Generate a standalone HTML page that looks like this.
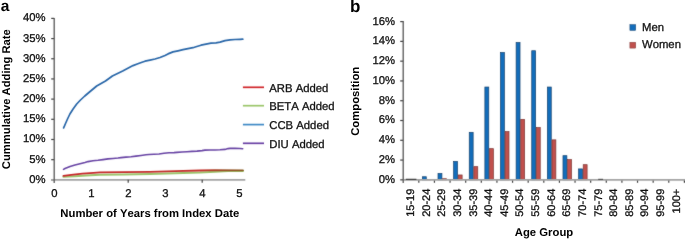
<!DOCTYPE html>
<html><head><meta charset="utf-8"><style>
html,body{margin:0;padding:0;background:#fff;width:685px;height:241px;overflow:hidden}
svg{display:block;transform:translateZ(0)}
text{font-family:"Liberation Sans", sans-serif;fill:#1a1a1a;font-kerning:none;text-rendering:geometricPrecision}
.t{font-size:11.3px;fill:#111;stroke:#111;stroke-width:0.3px}
.s{font-size:11px;fill:#111;stroke:#111;stroke-width:0.3px}
.b{font-size:11.3px;font-weight:bold;fill:#000}
.br{font-size:11.15px;font-weight:bold;fill:#000}
.lab{font-size:16px;font-weight:bold;fill:#000}
</style></head><body>
<svg width="685" height="241" viewBox="0 0 685 241">
<defs><filter id="id0" color-interpolation-filters="sRGB" x="0" y="0" width="685" height="241" filterUnits="userSpaceOnUse"><feOffset dx="0" dy="0"/></filter><filter id="bl" color-interpolation-filters="sRGB" x="0" y="0" width="685" height="241" filterUnits="userSpaceOnUse"><feConvolveMatrix order="3" kernelMatrix="0.025 0.05 0.025 0.05 0.7 0.05 0.025 0.05 0.025" edgeMode="duplicate" preserveAlpha="false"/></filter></defs>
<rect width="685" height="241" fill="#fff"/>
<g filter="url(#bl)">
<rect width="685" height="241" fill="#fff"/>
<line x1="51.2" y1="179.85" x2="54.2" y2="179.85" stroke="#404040" stroke-width="1.2"/>
<line x1="51.2" y1="159.67" x2="54.2" y2="159.67" stroke="#404040" stroke-width="1.2"/>
<line x1="51.2" y1="139.49" x2="54.2" y2="139.49" stroke="#404040" stroke-width="1.2"/>
<line x1="51.2" y1="119.31" x2="54.2" y2="119.31" stroke="#404040" stroke-width="1.2"/>
<line x1="51.2" y1="99.12" x2="54.2" y2="99.12" stroke="#404040" stroke-width="1.2"/>
<line x1="51.2" y1="78.94" x2="54.2" y2="78.94" stroke="#404040" stroke-width="1.2"/>
<line x1="51.2" y1="58.76" x2="54.2" y2="58.76" stroke="#404040" stroke-width="1.2"/>
<line x1="51.2" y1="38.58" x2="54.2" y2="38.58" stroke="#404040" stroke-width="1.2"/>
<line x1="51.2" y1="18.4" x2="54.2" y2="18.4" stroke="#404040" stroke-width="1.2"/>
<line x1="51" y1="179.85" x2="245.3" y2="179.85" stroke="#a3a3a3" stroke-width="1.6"/>
<line x1="54.2" y1="18" x2="54.2" y2="183" stroke="#555" stroke-width="1.3"/>
<line x1="128.2" y1="179.85" x2="128.2" y2="182.8" stroke="#404040" stroke-width="1.2"/>
<line x1="202.2" y1="179.85" x2="202.2" y2="182.8" stroke="#404040" stroke-width="1.2"/>
<path d="M63.4,176.8 L74.9,176.3 L86.1,175.6 L100,174.8 L124,174.4 L150,174 L175,173.2 L200,172.6 L215,171.8 L228,171.1 L243,170.9" fill="none" stroke="#9cc46c" stroke-width="2" stroke-linejoin="round" stroke-linecap="round"/>
<defs><linearGradient id="ga" gradientUnits="userSpaceOnUse" x1="63" y1="0" x2="243" y2="0"><stop offset="0" stop-color="#c8262a"/><stop offset="0.78" stop-color="#c2302a"/><stop offset="0.9" stop-color="#9a4f26"/><stop offset="1" stop-color="#8a5a22"/></linearGradient></defs>
<path d="M63.4,175.9 L71.2,174.8 L82.4,173.6 L93.6,172.8 L100,172.4 L124,172.1 L150,171.8 L175,171.1 L200,170.5 L215,170.2 L243,170.3" fill="none" stroke="url(#ga)" stroke-width="1.8" stroke-linejoin="round" stroke-linecap="round"/>
<path d="M63.5,169.4 L65,168.5 L70,166.5 L75,165 L80,163.7 L85,162.5 L88,161.6 L93,160.8 L98,160.3 L103,159.6 L108,158.9 L113,158.5 L118,158 L121,157.6 L126,157.1 L131,156.7 L136,156.1 L141,155.5 L146,154.8 L149,154.5 L154,154.2 L159,154 L164,153.3 L169,152.7 L174,152.6 L177,152.4 L182,152 L187,151.7 L192,151.4 L197,151.1 L202,150.6 L205,150.1 L210,150 L215,150 L220,149.8 L225,149.4 L228,148.6 L230,148.4 L235,148.4 L240,148.5 L242.7,148.7" fill="none" stroke="#6844a4" stroke-width="1.6" stroke-linejoin="round" stroke-linecap="round"/>
<path d="M63.6,127.9 L64.5,125.9 L65.3,124 L67.5,119 L69.9,114 L73.1,109 L76.7,104 L80.5,100 L84.8,96 L90.7,91 L96.7,86 L105.5,81 L112.4,76 L122.7,71 L133,65.6 L137.9,63.8 L142,62.2 L145,61.2 L150,60.1 L155,59 L160,57.5 L165,55.5 L168,53.9 L173,51.9 L178,50.8 L183,49.7 L188,48.6 L193,47.7 L196,46.8 L201,45.2 L206,44.1 L211,43.2 L216,42.8 L220,42.1 L225,40.6 L230,39.8 L235,39.5 L240,39.3 L242.8,39.2" fill="none" stroke="#2866a8" stroke-width="1.7" stroke-linejoin="round" stroke-linecap="round"/>
<line x1="242.9" y1="87.3" x2="264" y2="87.3" stroke="#d0262a" stroke-width="1.7"/>
<line x1="242.9" y1="105.7" x2="264" y2="105.7" stroke="#9bc56a" stroke-width="1.7"/>
<line x1="242.9" y1="124.6" x2="264" y2="124.6" stroke="#3f8ac6" stroke-width="1.7"/>
<line x1="242.9" y1="143.3" x2="264" y2="143.3" stroke="#6a40a4" stroke-width="1.7"/>
<line x1="400.2" y1="179.85" x2="403.2" y2="179.85" stroke="#404040" stroke-width="1.2"/>
<line x1="400.2" y1="160.07" x2="403.2" y2="160.07" stroke="#404040" stroke-width="1.2"/>
<line x1="400.2" y1="140.29" x2="403.2" y2="140.29" stroke="#404040" stroke-width="1.2"/>
<line x1="400.2" y1="120.51" x2="403.2" y2="120.51" stroke="#404040" stroke-width="1.2"/>
<line x1="400.2" y1="100.72" x2="403.2" y2="100.72" stroke="#404040" stroke-width="1.2"/>
<line x1="400.2" y1="80.94" x2="403.2" y2="80.94" stroke="#404040" stroke-width="1.2"/>
<line x1="400.2" y1="61.16" x2="403.2" y2="61.16" stroke="#404040" stroke-width="1.2"/>
<line x1="400.2" y1="41.38" x2="403.2" y2="41.38" stroke="#404040" stroke-width="1.2"/>
<line x1="400.2" y1="21.6" x2="403.2" y2="21.6" stroke="#404040" stroke-width="1.2"/>
<line x1="418.82" y1="179.85" x2="418.82" y2="182.8" stroke="#404040" stroke-width="1.2"/>
<rect x="422.38" y="176.74" width="3.9" height="3.11" fill="#126dbb" stroke="#17436e" stroke-width="0.7"/>
<rect x="426.98" y="179.41" width="3.9" height="0.44" fill="#c0504d" stroke="#7e3633" stroke-width="0.7"/>
<line x1="434.44" y1="179.85" x2="434.44" y2="182.8" stroke="#404040" stroke-width="1.2"/>
<rect x="438.01" y="173.47" width="3.9" height="6.38" fill="#126dbb" stroke="#17436e" stroke-width="0.7"/>
<rect x="442.61" y="178.72" width="3.9" height="1.13" fill="#c0504d" stroke="#7e3633" stroke-width="0.7"/>
<line x1="450.07" y1="179.85" x2="450.07" y2="182.8" stroke="#404040" stroke-width="1.2"/>
<rect x="453.63" y="161.41" width="3.9" height="18.44" fill="#126dbb" stroke="#17436e" stroke-width="0.7"/>
<rect x="458.23" y="174.96" width="3.9" height="4.89" fill="#c0504d" stroke="#7e3633" stroke-width="0.7"/>
<line x1="465.69" y1="179.85" x2="465.69" y2="182.8" stroke="#404040" stroke-width="1.2"/>
<rect x="469.25" y="132.33" width="3.9" height="47.52" fill="#126dbb" stroke="#17436e" stroke-width="0.7"/>
<rect x="473.85" y="166.65" width="3.9" height="13.2" fill="#c0504d" stroke="#7e3633" stroke-width="0.7"/>
<line x1="481.31" y1="179.85" x2="481.31" y2="182.8" stroke="#404040" stroke-width="1.2"/>
<rect x="484.87" y="87.03" width="3.9" height="92.82" fill="#126dbb" stroke="#17436e" stroke-width="0.7"/>
<rect x="489.47" y="148.65" width="3.9" height="31.2" fill="#c0504d" stroke="#7e3633" stroke-width="0.7"/>
<line x1="496.93" y1="179.85" x2="496.93" y2="182.8" stroke="#404040" stroke-width="1.2"/>
<rect x="500.49" y="52.51" width="3.9" height="127.34" fill="#126dbb" stroke="#17436e" stroke-width="0.7"/>
<rect x="505.09" y="131.64" width="3.9" height="48.21" fill="#c0504d" stroke="#7e3633" stroke-width="0.7"/>
<line x1="512.56" y1="179.85" x2="512.56" y2="182.8" stroke="#404040" stroke-width="1.2"/>
<rect x="516.12" y="42.52" width="3.9" height="137.33" fill="#126dbb" stroke="#17436e" stroke-width="0.7"/>
<rect x="520.72" y="119.37" width="3.9" height="60.48" fill="#c0504d" stroke="#7e3633" stroke-width="0.7"/>
<line x1="528.18" y1="179.85" x2="528.18" y2="182.8" stroke="#404040" stroke-width="1.2"/>
<rect x="531.74" y="50.73" width="3.9" height="129.12" fill="#126dbb" stroke="#17436e" stroke-width="0.7"/>
<rect x="536.34" y="127.58" width="3.9" height="52.27" fill="#c0504d" stroke="#7e3633" stroke-width="0.7"/>
<line x1="543.8" y1="179.85" x2="543.8" y2="182.8" stroke="#404040" stroke-width="1.2"/>
<rect x="547.36" y="87.03" width="3.9" height="92.82" fill="#126dbb" stroke="#17436e" stroke-width="0.7"/>
<rect x="551.96" y="139.85" width="3.9" height="40" fill="#c0504d" stroke="#7e3633" stroke-width="0.7"/>
<line x1="559.42" y1="179.85" x2="559.42" y2="182.8" stroke="#404040" stroke-width="1.2"/>
<rect x="562.98" y="155.67" width="3.9" height="24.18" fill="#126dbb" stroke="#17436e" stroke-width="0.7"/>
<rect x="567.58" y="159.63" width="3.9" height="20.22" fill="#c0504d" stroke="#7e3633" stroke-width="0.7"/>
<line x1="575.04" y1="179.85" x2="575.04" y2="182.8" stroke="#404040" stroke-width="1.2"/>
<rect x="578.61" y="168.92" width="3.9" height="10.93" fill="#126dbb" stroke="#17436e" stroke-width="0.7"/>
<rect x="583.21" y="164.67" width="3.9" height="15.18" fill="#c0504d" stroke="#7e3633" stroke-width="0.7"/>
<line x1="590.67" y1="179.85" x2="590.67" y2="182.8" stroke="#404040" stroke-width="1.2"/>
<line x1="606.29" y1="179.85" x2="606.29" y2="182.8" stroke="#404040" stroke-width="1.2"/>
<line x1="621.91" y1="179.85" x2="621.91" y2="182.8" stroke="#404040" stroke-width="1.2"/>
<line x1="637.53" y1="179.85" x2="637.53" y2="182.8" stroke="#404040" stroke-width="1.2"/>
<line x1="653.16" y1="179.85" x2="653.16" y2="182.8" stroke="#404040" stroke-width="1.2"/>
<line x1="668.78" y1="179.85" x2="668.78" y2="182.8" stroke="#404040" stroke-width="1.2"/>
<line x1="684.4" y1="179.85" x2="684.4" y2="182.8" stroke="#404040" stroke-width="1.2"/>
<line x1="403.2" y1="179.85" x2="685" y2="179.85" stroke="#a3a3a3" stroke-width="1.6"/>
<line x1="403.2" y1="21" x2="403.2" y2="183" stroke="#555" stroke-width="1.3"/>
<rect x="405.81" y="178.75" width="10.6" height="1.2" fill="#3c3c3c"/>
<rect x="598.18" y="178.8" width="4.9" height="1.1" fill="#4a4a4a"/>
<rect x="629.9" y="24.6" width="5.8" height="5.8" fill="#126dbb" stroke="#17436e" stroke-width="0.5"/>
<rect x="629.9" y="42.3" width="5.8" height="5.8" fill="#c0504d" stroke="#7e3633" stroke-width="0.5"/>
</g>
<g filter="url(#id0)">
<text x="45.6" y="182.85" text-anchor="end" class="t">0%</text>
<text x="45.6" y="162.67" text-anchor="end" class="t">5%</text>
<text x="45.6" y="142.49" text-anchor="end" class="t">10%</text>
<text x="45.6" y="122.31" text-anchor="end" class="t">15%</text>
<text x="45.6" y="102.12" text-anchor="end" class="t">20%</text>
<text x="45.6" y="81.94" text-anchor="end" class="t">25%</text>
<text x="45.6" y="61.76" text-anchor="end" class="t">30%</text>
<text x="45.6" y="41.58" text-anchor="end" class="t">35%</text>
<text x="45.6" y="21.4" text-anchor="end" class="t">40%</text>
<text x="54.5" y="197" text-anchor="middle" class="t">0</text>
<text x="91.5" y="197" text-anchor="middle" class="t">1</text>
<text x="128.5" y="197" text-anchor="middle" class="t">2</text>
<text x="165.5" y="197" text-anchor="middle" class="t">3</text>
<text x="202.5" y="197" text-anchor="middle" class="t">4</text>
<text x="239.5" y="197" text-anchor="middle" class="t">5</text>
<text x="149.8" y="216.8" text-anchor="middle" class="b">Number of Years from Index Date</text>
<text transform="translate(10.4,99.2) rotate(-90)" text-anchor="middle" class="br" style="font-size:11.25px">Cummulative Adding Rate</text>
<text x="0.7" y="11.2" class="lab" style="font-size:15.5px">a</text>
<text x="269.3" y="91.6" class="t">ARB Added</text>
<text x="269.3" y="110" class="t">BETA Added</text>
<text x="269.3" y="128.9" class="t">CCB Added</text>
<text x="269.3" y="147.6" class="t">DIU Added</text>
<text x="395" y="182.75" text-anchor="end" class="t">0%</text>
<text x="395" y="162.97" text-anchor="end" class="t">2%</text>
<text x="395" y="143.19" text-anchor="end" class="t">4%</text>
<text x="395" y="123.41" text-anchor="end" class="t">6%</text>
<text x="395" y="103.62" text-anchor="end" class="t">8%</text>
<text x="395" y="83.84" text-anchor="end" class="t">10%</text>
<text x="395" y="64.06" text-anchor="end" class="t">12%</text>
<text x="395" y="44.28" text-anchor="end" class="t">14%</text>
<text x="395" y="24.5" text-anchor="end" class="t">16%</text>
<text transform="translate(414.11,188.7) rotate(-90)" text-anchor="end" class="s">15-19</text>
<text transform="translate(429.73,188.7) rotate(-90)" text-anchor="end" class="s">20-24</text>
<text transform="translate(445.36,188.7) rotate(-90)" text-anchor="end" class="s">25-29</text>
<text transform="translate(460.98,188.7) rotate(-90)" text-anchor="end" class="s">30-34</text>
<text transform="translate(476.6,188.7) rotate(-90)" text-anchor="end" class="s">35-39</text>
<text transform="translate(492.22,188.7) rotate(-90)" text-anchor="end" class="s">40-44</text>
<text transform="translate(507.84,188.7) rotate(-90)" text-anchor="end" class="s">45-49</text>
<text transform="translate(523.47,188.7) rotate(-90)" text-anchor="end" class="s">50-54</text>
<text transform="translate(539.09,188.7) rotate(-90)" text-anchor="end" class="s">55-59</text>
<text transform="translate(554.71,188.7) rotate(-90)" text-anchor="end" class="s">60-64</text>
<text transform="translate(570.33,188.7) rotate(-90)" text-anchor="end" class="s">65-69</text>
<text transform="translate(585.96,188.7) rotate(-90)" text-anchor="end" class="s">70-74</text>
<text transform="translate(601.58,188.7) rotate(-90)" text-anchor="end" class="s">75-79</text>
<text transform="translate(617.2,188.7) rotate(-90)" text-anchor="end" class="s">80-84</text>
<text transform="translate(632.82,188.7) rotate(-90)" text-anchor="end" class="s">85-89</text>
<text transform="translate(648.44,188.7) rotate(-90)" text-anchor="end" class="s">90-94</text>
<text transform="translate(664.07,188.7) rotate(-90)" text-anchor="end" class="s">95-99</text>
<text transform="translate(679.69,188.7) rotate(-90)" text-anchor="end" class="s">100+</text>
<text x="544" y="236.4" text-anchor="middle" class="b">Age Group</text>
<text transform="translate(359,101.3) rotate(-90)" text-anchor="middle" class="br" style="font-size:11.3px">Composition</text>
<text x="349.9" y="11.8" class="lab" style="font-size:17px">b</text>
<text x="642" y="30.5" class="t">Men</text>
<text x="642" y="48.2" class="t">Women</text>
</g>
</svg>
</body></html>
